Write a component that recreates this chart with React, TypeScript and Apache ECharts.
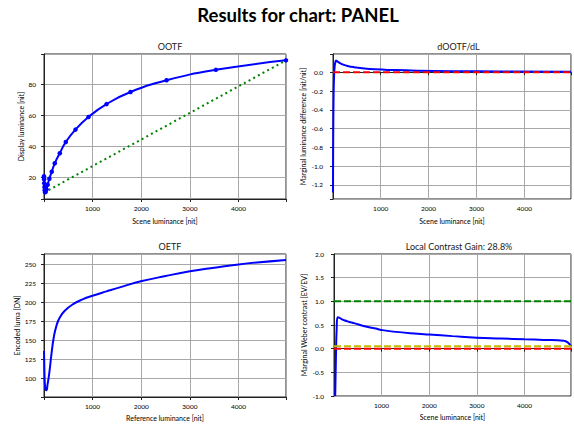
import React, { useEffect, useRef } from "react";
import * as echarts from "echarts";

// ---- Data ----
const OOTF_X = [5, 7, 10, 14, 19, 27, 39, 56, 80, 115, 164, 226, 329, 452, 651, 918, 1288, 1781, 2521, 3534, 4973];
const OOTF_Y = [21, 19, 16.5, 14, 12, 10.6, 11, 12.5, 15.5, 19.3, 23.9, 29.3, 35.8, 43.0, 51.0, 59.1, 67.4, 75.2, 82.8, 89.5, 95.6];
const OOTF_REF_X = [5, 4973];
const OOTF_REF_Y = [10.4, 95.6];

const DOOTF_X = [5, 7, 10, 14, 19, 27, 39, 55, 68, 78, 110, 155, 220, 311, 440, 622, 879, 1243, 1758, 2487, 3517, 4973];
const DOOTF_Y = [-1.28, -0.95, -0.65, -0.4, -0.2, -0.05, 0.06, 0.11, 0.126, 0.124, 0.112, 0.097, 0.082, 0.068, 0.055, 0.043, 0.032, 0.024, 0.017, 0.012, 0.009, 0.006];

const OETF_X = [5, 7, 10, 14, 19, 27, 39, 55, 78, 110, 158, 205, 260, 329, 431, 603, 808, 1000, 1288, 1630, 1993, 2500, 3000, 3500, 4000, 4973];
const OETF_Y = [136, 130, 120, 108, 97, 89, 85, 84.2, 92, 105, 131.6, 153.7, 169, 180, 188.8, 197.6, 204.2, 208.6, 214.4, 221, 227.6, 234.6, 240.8, 245.6, 249.9, 255.8];

const WEBER_X = [30, 45, 60, 82, 110, 155, 220, 311, 440, 622, 879, 1000, 1243, 1758, 2000, 2487, 3000, 3517, 4000, 4400, 4820, 4973];
const WEBER_Y = [-1.0, -0.2, 0.4, 0.663, 0.655, 0.63, 0.6, 0.57, 0.535, 0.48, 0.425, 0.395, 0.36, 0.315, 0.3, 0.265, 0.232, 0.215, 0.197, 0.185, 0.168, 0.05];

const REF_ONE = 1.0;
const REF_YELLOW = 0.05;
const REF_ZERO = 0.0;

const X_MIN = 5;
const X_MAX = 4973;

const MAIN_TITLE = "Results for chart: PANEL";
const PANEL_TITLES = ["OOTF", "dOOTF/dL", "OETF", "Local Contrast Gain: 28.8%"];
const X_NAMES = ["Scene luminance [nit]", "Scene luminance [nit]", "Reference luminance [nit]", "Scene luminance [nit]"];
const Y_NAMES = ["Display luminance [nit]", "Marginal luminance difference [nit/nit]", "Encoded luma [DN]", "Marginal Weber contrast [EV/EV]"];

const zip = (xs: number[], ys: number[]) => xs.map((x, i) => [x, ys[i]]);

const FONT = "Lato";
const GRID_COLOR = "#a8a8a8";
const FRAME = "#222";
const TEXT = "#000000";

export default function App() {
  const ref = useRef<HTMLDivElement>(null);
  useEffect(() => {
    document.body.style.margin = "0";
    if (!ref.current) return;
    const chart = echarts.init(ref.current, undefined, { renderer: "svg" });

    const grids = [
      { left: 44, top: 54, width: 242, height: 145 },
      { left: 333, top: 54, width: 241, height: 145 },
      { left: 44, top: 254, width: 242, height: 143 },
      { left: 334, top: 254, width: 240, height: 142 },
    ];

    const yCfg = [
      { min: 6.3, max: 99.7, step: 20, dec: 0, margin: 8, gap: 19 },
      { min: -1.35, max: 0.195, step: 0.2, dec: 1, margin: 10, gap: 27 },
      { min: 75.3, max: 263.6, step: 25, dec: 0, margin: 8, gap: 24 },
      { min: -1, max: 2, step: 0.5, dec: 1, margin: 10, gap: 27 },
    ];

    const isMult = (v: number, s: number) => Math.abs(v / s - Math.round(v / s)) < 1e-6;

    const xAxis = grids.map((_, i) => ({
      type: "value",
      gridIndex: i,
      min: X_MIN,
      max: X_MAX,
      minInterval: 1000,
      maxInterval: 1000,
      name: X_NAMES[i],
      nameLocation: "middle",
      nameGap: i >= 2 ? 17 : 18,
      nameTextStyle: { fontFamily: FONT, fontSize: 7, color: TEXT },
      axisLine: { show: true, lineStyle: { color: FRAME, width: 1 } },
      axisTick: { show: true, inside: false, length: 3, lineStyle: { color: FRAME } },
      axisLabel: {
        fontFamily: FONT,
        fontSize: 6.5,
        color: TEXT,
        margin: 6,
        formatter: (v: number) => (isMult(v, 1000) && v > 0 ? String(Math.round(v)) : ""),
      },
      splitLine: { show: true, lineStyle: { color: GRID_COLOR, width: 1 } },
    }));

    const yAxis = grids.map((_, i) => {
      const c = yCfg[i];
      return {
        type: "value",
        gridIndex: i,
        min: c.min,
        max: c.max,
        minInterval: c.step,
        maxInterval: c.step,
        name: Y_NAMES[i],
        nameLocation: "middle",
        nameGap: c.gap,
        nameTextStyle: { fontFamily: FONT, fontSize: 7, color: TEXT },
        axisLine: { show: true, lineStyle: { color: FRAME, width: 1 } },
        axisTick: { show: true, inside: false, length: 3, lineStyle: { color: FRAME } },
        axisLabel: {
          fontFamily: FONT,
          fontSize: 6.5,
          color: TEXT,
          margin: c.margin,
          formatter: (v: number) => (isMult(v, c.step) ? v.toFixed(c.dec) : ""),
        },
        splitLine: { show: true, lineStyle: { color: GRID_COLOR, width: 1 } },
      };
    });

    const hline = (i: number, y: number, color: string, type: any) => ({
      type: "line",
      xAxisIndex: i,
      yAxisIndex: i,
      data: [[X_MIN, y], [X_MAX, y]],
      symbol: "none",
      lineStyle: { color, width: 2, type },
      silent: true,
    });

    const blue = (i: number, data: number[][], symbol = false) => ({
      type: "line",
      xAxisIndex: i,
      yAxisIndex: i,
      data,
      symbol: symbol ? "circle" : "none",
      symbolSize: 4.5,
      showSymbol: symbol,
      itemStyle: { color: "#0000ff" },
      smooth: 0.5,
      lineStyle: { color: "#0000ff", width: 2 },
      clip: true,
    });

    const option: any = {
      animation: false,
      backgroundColor: "#fff",
      textStyle: { fontFamily: FONT },
      title: [
        {
          text: MAIN_TITLE,
          left: 293,
          top: 0,
          textAlign: "center",
          textStyle: { fontFamily: FONT, fontSize: 18.5, fontWeight: "bold", color: "#000" },
        },
        ...PANEL_TITLES.map((t, i) => ({
          text: t,
          left: grids[i].left + grids[i].width / 2,
          top: grids[i].top - 17,
          textAlign: "center",
          textStyle: { fontFamily: FONT, fontSize: 9, fontWeight: "normal", color: "#1a1a1a" },
        })),
      ],
      grid: grids.map((g) => ({ ...g, show: true, borderColor: FRAME, borderWidth: 1, backgroundColor: "transparent" })),
      xAxis,
      yAxis,
      series: [
        blue(0, zip(OOTF_X, OOTF_Y), true),
        {
          type: "line",
          xAxisIndex: 0,
          yAxisIndex: 0,
          data: zip(OOTF_REF_X, OOTF_REF_Y),
          symbol: "none",
          lineStyle: { color: "#008000", width: 2, type: [2, 3.3] },
        },
        blue(1, zip(DOOTF_X, DOOTF_Y)),
        hline(1, REF_ZERO, "#ff0000", [7, 3]),
        blue(2, zip(OETF_X, OETF_Y)),
        blue(3, zip(WEBER_X, WEBER_Y)),
        hline(3, REF_ONE, "#008000", [7, 3]),
        hline(3, REF_YELLOW, "#bfbf00", [7, 3]),
        hline(3, REF_ZERO, "#ff0000", [7, 3]),
      ],
    };
    chart.setOption(option);
    return () => chart.dispose();
  }, []);
  return <div ref={ref} style={{ width: 574, height: 427 }} />;
}
